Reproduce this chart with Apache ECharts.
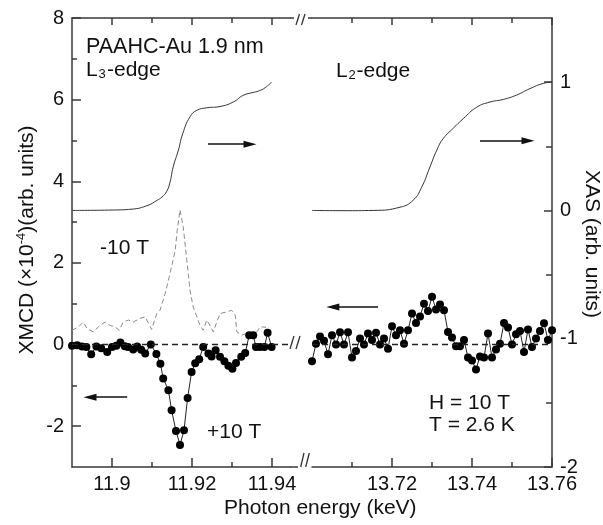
<!DOCTYPE html>
<html>
<head>
<meta charset="utf-8">
<script src="https://cdn.jsdelivr.net/npm/echarts@6/dist/echarts.min.js"></script>
<style>
  html, body { margin: 0; padding: 0; background: #fff; }
  #chart { width: 603px; height: 525px; }
</style>
</head>
<body>
<div id="chart"></div>
<script>
const FONT = '"Liberation Sans", Arial, Helvetica, sans-serif';

// ---- L3 edge (left panel) ----
// XAS spectrum (right-hand scale)
const l3XasEnergy = [11.890, 11.900, 11.905, 11.909, 11.9112, 11.9125, 11.9137, 11.9145, 11.9153, 11.9166, 11.9177,
                     11.9195, 11.9212, 11.9237, 11.927, 11.9303, 11.9328, 11.9353, 11.9366, 11.9383, 11.9399];
const l3Xas = [0, 0.003, 0.01, 0.04, 0.078, 0.105, 0.15, 0.22, 0.34, 0.47, 0.60,
               0.73, 0.78, 0.80, 0.81, 0.845, 0.897, 0.92, 0.93, 0.957, 1.0];

// XMCD at -10 T (dashed)
const l3MinusEnergy = [11.8900, 11.8916, 11.8928, 11.8938, 11.8953, 11.8970, 11.8983, 11.8995, 11.9008, 11.9018,
                       11.9028, 11.9041, 11.9053, 11.9070, 11.9083, 11.9099, 11.9112, 11.9120, 11.9133, 11.9145,
                       11.9158, 11.9163, 11.9170, 11.9178, 11.9187, 11.9195, 11.9203, 11.9212, 11.9220, 11.9228,
                       11.9237, 11.9245, 11.9253, 11.9262, 11.9270, 11.9287, 11.9299, 11.9308, 11.9312, 11.9324,
                       11.9337, 11.9349, 11.9362, 11.9370, 11.9383, 11.9391, 11.9399];
const l3Minus = [0.35, 0.43, 0.55, 0.39, 0.31, 0.47, 0.55, 0.47, 0.43, 0.35,
                 0.55, 0.60, 0.55, 0.64, 0.68, 0.37, 0.76, 0.84, 1.25, 1.74,
                 2.30, 2.80, 3.30, 2.89, 2.07, 1.33, 0.92, 0.68, 0.47, 0.35,
                 0.60, 0.47, 0.31, 0.55, 0.76, 0.80, 0.84, 0.72, 0.31, 0.23,
                 0.27, 0.23, 0.31, 0.43, 0.43, 0.31, 0.19];

// XMCD at +10 T (dots)
const l3PlusEnergy = [11.8900, 11.8913, 11.8925, 11.8936, 11.8948, 11.8961, 11.8973, 11.8988, 11.9000, 11.9011,
                      11.9021, 11.9032, 11.9040, 11.9053, 11.9063, 11.9073, 11.9083, 11.9097, 11.9111, 11.9121,
                      11.9128, 11.9141, 11.9149, 11.9160, 11.9170, 11.9180, 11.9189, 11.9199, 11.9208, 11.9218,
                      11.9228, 11.9241, 11.9249, 11.9259, 11.9270, 11.9281, 11.9291, 11.9301, 11.9310, 11.9323,
                      11.9333, 11.9343, 11.9353, 11.9360, 11.9370, 11.9381, 11.9389, 11.9399];
const l3Plus = [-0.03, -0.02, -0.05, -0.06, -0.24, -0.05, -0.09, -0.18, -0.06, -0.03,
                0.05, -0.04, -0.06, -0.12, -0.05, -0.13, -0.22, 0.00, -0.23, -0.47,
                -0.83, -1.12, -1.61, -2.12, -2.46, -2.10, -1.31, -0.67, -0.46, -0.36,
                -0.06, -0.22, -0.29, -0.14, -0.30, -0.41, -0.52, -0.59, -0.45, -0.30,
                -0.21, 0.23, 0.23, -0.06, -0.06, -0.06, 0.29, -0.06];

// ---- L2 edge (right panel) ----
const l2XasEnergy = [13.700, 13.708, 13.7153, 13.722, 13.7253, 13.7274, 13.7295, 13.7312, 13.7328, 13.7353,
                     13.7378, 13.7412, 13.7445, 13.7478, 13.7512, 13.7545, 13.7578, 13.760];
const l2Xas = [0, -0.002, 0, 0.025, 0.08, 0.18, 0.34, 0.47, 0.56, 0.64,
               0.715, 0.805, 0.845, 0.865, 0.90, 0.95, 0.99, 1.0];

const l2Energy = [13.700, 13.701, 13.702, 13.703, 13.704, 13.705, 13.706, 13.707, 13.708, 13.709,
                  13.710, 13.711, 13.712, 13.713, 13.714, 13.715, 13.716, 13.717, 13.718, 13.719,
                  13.720, 13.721, 13.722, 13.723, 13.724, 13.725, 13.726, 13.727, 13.728, 13.729,
                  13.730, 13.731, 13.732, 13.733, 13.734, 13.735, 13.736, 13.737, 13.738, 13.739,
                  13.740, 13.741, 13.742, 13.743, 13.744, 13.745, 13.746, 13.747, 13.748, 13.749,
                  13.750, 13.751, 13.752, 13.753, 13.754, 13.755, 13.756, 13.757, 13.758, 13.759,
                  13.760];
const l2Xmcd = [-0.41, 0.02, 0.20, 0.09, -0.24, 0.23, 0.00, 0.30, 0.00, 0.30,
                -0.32, -0.16, 0.15, 0.00, 0.27, 0.11, 0.29, 0.00, 0.15, -0.10,
                0.45, 0.23, 0.35, 0.02, 0.35, 0.76, 0.53, 0.69, 1.00, 0.82,
                1.17, 0.86, 0.98, 0.84, 0.31, 0.17, -0.04, -0.04, 0.11, -0.32,
                -0.39, -0.61, -0.29, -0.32, 0.27, -0.32, -0.12, 0.02, 0.53, 0.42,
                0.00, 0.25, 0.33, -0.18, 0.37, -0.06, 0.15, 0.33, 0.52, 0.11,
                0.35];

// ---- ticks ----
const l3Ticks = [11.90, 11.92, 11.94];
const l3Minor = [11.91, 11.93];
const l2Ticks = [13.72, 13.74, 13.76];
const l2Minor = [13.71, 13.73, 13.75];
const xmcdTicks = [-2, 0, 2, 4, 6, 8];
const xmcdMinor = [-1, 1, 3, 5, 7];
const xasTicks = [-2, -1, 0, 1];
const xasMinor = [-1.5, -0.5, 0.5];

// ---- arrows (start, end) in data coordinates ----
const l3ArrowXas = [[11.9240, 4.91], [11.9345, 4.91]];
const l3ArrowXmcd = [[11.9038, -1.29], [11.8945, -1.29]];
const l2ArrowXas = [[13.7420, 4.99], [13.7540, 4.99]];
const l2ArrowXmcd = [[13.7165, 0.92], [13.7052, 0.92]];

const zip = (xs, ys) => xs.map((x, i) => [x, ys[i]]);
const AX = '#3a3a3a';
const axisLineStyle = { color: AX, width: 1.5 };
const trim = v => String(parseFloat(Number(v).toFixed(2)));

function labelCfg(values, margin) {
  return { show: true, customValues: values, margin: margin, formatter: trim,
           fontSize: 20, fontFamily: FONT, color: '#111' };
}
function xAxisDef(grid, min, max, position, ticks, len, withLine, labels) {
  return {
    type: 'value', gridIndex: grid, min: min, max: max, position: position,
    splitLine: { show: false },
    axisLine: { show: withLine, onZero: false, lineStyle: axisLineStyle },
    axisTick: { show: true, inside: true, length: len, customValues: ticks, lineStyle: axisLineStyle },
    axisLabel: labels ? labelCfg(labels, 7) : { show: false }
  };
}
function yAxisDef(grid, min, max, position, ticks, len, withLine, labels) {
  return {
    type: 'value', gridIndex: grid, min: min, max: max, position: position,
    splitLine: { show: false },
    axisLine: { show: withLine, onZero: false, lineStyle: axisLineStyle },
    axisTick: { show: true, inside: true, length: len, customValues: ticks, lineStyle: axisLineStyle },
    axisLabel: labels ? labelCfg(labels, 8) : { show: false }
  };
}
function hiddenY(grid, min, max) {
  return { type: 'value', gridIndex: grid, min: min, max: max, show: false,
           axisLine: { onZero: false }, splitLine: { show: false } };
}
function arrow(pair) {
  return [
    { coord: pair[0], symbol: 'none' },
    { coord: pair[1], symbol: 'triangle', symbolSize: [7, 13] }
  ];
}

const L3MIN = 11.89, L3MAX = 11.9445, L2MIN = 13.70, L2MAX = 13.76;

const option = {
  animation: false,
  backgroundColor: '#fff',
  grid: [
    { left: 72, top: 18, width: 218, height: 449 },
    { left: 312, top: 18, width: 240, height: 449 }
  ],
  xAxis: [
    xAxisDef(0, L3MIN, L3MAX, 'bottom', l3Ticks, 9, true, l3Ticks),
    xAxisDef(0, L3MIN, L3MAX, 'bottom', l3Minor, 5, false, null),
    xAxisDef(0, L3MIN, L3MAX, 'top', l3Ticks, 7, true, null),
    xAxisDef(0, L3MIN, L3MAX, 'top', l3Minor, 5, false, null),
    xAxisDef(1, L2MIN, L2MAX, 'bottom', l2Ticks, 9, true, l2Ticks),
    xAxisDef(1, L2MIN, L2MAX, 'bottom', l2Minor, 5, false, null),
    xAxisDef(1, L2MIN, L2MAX, 'top', l2Ticks, 7, true, null),
    xAxisDef(1, L2MIN, L2MAX, 'top', l2Minor, 5, false, null)
  ],
  yAxis: [
    yAxisDef(0, -3, 8, 'left', xmcdTicks, 9, true, xmcdTicks),
    yAxisDef(0, -3, 8, 'left', xmcdMinor, 5, false, null),
    hiddenY(0, -2, 1.5),
    hiddenY(1, -3, 8),
    yAxisDef(1, -2, 1.5, 'right', xasTicks, 8, true, xasTicks),
    yAxisDef(1, -2, 1.5, 'right', xasMinor, 6, false, null)
  ],
  series: [
    {
      name: 'XAS L3', type: 'line', xAxisIndex: 0, yAxisIndex: 2,
      data: zip(l3XasEnergy, l3Xas), smooth: 0.5,
      showSymbol: false, silent: true,
      lineStyle: { color: '#333', width: 1 }
    },
    {
      name: '-10 T', type: 'line', xAxisIndex: 0, yAxisIndex: 0,
      data: zip(l3MinusEnergy, l3Minus), showSymbol: false, silent: true,
      lineStyle: { color: '#8c8c8c', width: 1, type: [5, 3] }
    },
    {
      name: '+10 T', type: 'line', xAxisIndex: 0, yAxisIndex: 0,
      data: zip(l3PlusEnergy, l3Plus), clip: false, silent: true,
      symbol: 'circle', symbolSize: 8,
      itemStyle: { color: '#000' },
      lineStyle: { color: '#222', width: 1 },
      markLine: {
        silent: true, symbol: ['none', 'none'], label: { show: false },
        lineStyle: { color: '#111', width: 1.5, type: 'solid' },
        data: [
          { yAxis: 0, lineStyle: { color: '#222', width: 1.3, type: [6, 4] } },
          arrow(l3ArrowXas),
          arrow(l3ArrowXmcd)
        ]
      }
    },
    {
      name: 'XAS L2', type: 'line', xAxisIndex: 4, yAxisIndex: 4,
      data: zip(l2XasEnergy, l2Xas), smooth: 0.5,
      showSymbol: false, silent: true,
      lineStyle: { color: '#333', width: 1 }
    },
    {
      name: 'XMCD L2', type: 'line', xAxisIndex: 4, yAxisIndex: 3,
      data: zip(l2Energy, l2Xmcd), clip: false, silent: true,
      symbol: 'circle', symbolSize: 8,
      itemStyle: { color: '#000' },
      lineStyle: { color: '#222', width: 1 },
      markLine: {
        silent: true, symbol: ['none', 'none'], label: { show: false },
        lineStyle: { color: '#111', width: 1.5, type: 'solid' },
        data: [
          { yAxis: 0, lineStyle: { color: '#222', width: 1.3, type: [6, 4] } },
          arrow(l2ArrowXas),
          arrow(l2ArrowXmcd)
        ]
      }
    }
  ],
  graphic: [
    // axis break marks and short axis extensions
    { type: 'line', shape: { x1: 290, y1: 18, x2: 294, y2: 18 }, style: { stroke: AX, lineWidth: 1.5 } },
    { type: 'line', shape: { x1: 308, y1: 18, x2: 312, y2: 18 }, style: { stroke: AX, lineWidth: 1.5 } },
    { type: 'line', shape: { x1: 290, y1: 467, x2: 298, y2: 467 }, style: { stroke: AX, lineWidth: 1.5 } },
    { type: 'line', shape: { x1: 296, y1: 25, x2: 299.5, y2: 14 }, style: { stroke: '#333', lineWidth: 1.3 } },
    { type: 'line', shape: { x1: 301.5, y1: 25, x2: 305, y2: 14 }, style: { stroke: '#333', lineWidth: 1.3 } },
    { type: 'line', shape: { x1: 290, y1: 349, x2: 294, y2: 336 }, style: { stroke: '#333', lineWidth: 1.3 } },
    { type: 'line', shape: { x1: 296, y1: 349, x2: 300, y2: 336 }, style: { stroke: '#333', lineWidth: 1.3 } },
    { type: 'line', shape: { x1: 300.7, y1: 467, x2: 304, y2: 453 }, style: { stroke: '#333', lineWidth: 1.3 } },
    { type: 'line', shape: { x1: 305.7, y1: 467, x2: 309.3, y2: 453 }, style: { stroke: '#333', lineWidth: 1.3 } },

    // annotations
    { type: 'text', x: 86, y: 47, style: { text: 'PAAHC-Au 1.9 nm', fontSize: 21.5, fontFamily: FONT, fill: '#111', align: 'left', verticalAlign: 'middle' } },
    { type: 'text', x: 86, y: 70, style: { text: 'L', fontSize: 21, fontFamily: FONT, fill: '#111', align: 'left', verticalAlign: 'middle' } },
    { type: 'text', x: 98.5, y: 74, style: { text: '3', fontSize: 13, fontFamily: FONT, fill: '#111', align: 'left', verticalAlign: 'middle' } },
    { type: 'text', x: 107, y: 70, style: { text: '-edge', fontSize: 21, fontFamily: FONT, fill: '#111', align: 'left', verticalAlign: 'middle' } },
    { type: 'text', x: 336, y: 71, style: { text: 'L', fontSize: 21, fontFamily: FONT, fill: '#111', align: 'left', verticalAlign: 'middle' } },
    { type: 'text', x: 348.5, y: 75, style: { text: '2', fontSize: 13, fontFamily: FONT, fill: '#111', align: 'left', verticalAlign: 'middle' } },
    { type: 'text', x: 356.5, y: 71, style: { text: '-edge', fontSize: 21, fontFamily: FONT, fill: '#111', align: 'left', verticalAlign: 'middle' } },
    { type: 'text', x: 100, y: 248, style: { text: '-10 T', fontSize: 21, fontFamily: FONT, fill: '#111', align: 'left', verticalAlign: 'middle' } },
    { type: 'text', x: 207, y: 432, style: { text: '+10 T', fontSize: 21, fontFamily: FONT, fill: '#111', align: 'left', verticalAlign: 'middle' } },
    { type: 'text', x: 429, y: 403, style: { text: 'H = 10 T', fontSize: 21, fontFamily: FONT, fill: '#111', align: 'left', verticalAlign: 'middle' } },
    { type: 'text', x: 429, y: 425, style: { text: 'T = 2.6 K', fontSize: 21, fontFamily: FONT, fill: '#111', align: 'left', verticalAlign: 'middle' } },

    // axis titles
    { type: 'text', x: 224, y: 508, style: { text: 'Photon energy (keV)', fontSize: 21, fontFamily: FONT, fill: '#111', align: 'left', verticalAlign: 'middle' } },
    {
      type: 'text', x: 27, y: 240, rotation: Math.PI / 2,
      style: {
        text: '{n|XMCD (×10}{s|-4}{n|)(arb. units)}', fill: '#111', align: 'center', verticalAlign: 'middle',
        rich: {
          n: { fontSize: 21, fontFamily: FONT, lineHeight: 24, fill: '#111' },
          s: { fontSize: 13, fontFamily: FONT, lineHeight: 13, verticalAlign: 'top', fill: '#111' }
        }
      }
    },
    { type: 'text', x: 592, y: 244, rotation: -Math.PI / 2, style: { text: 'XAS (arb. units)', fontSize: 21, fontFamily: FONT, fill: '#111', align: 'center', verticalAlign: 'middle' } }
  ]
};

const chart = echarts.init(document.getElementById('chart'), null, { renderer: 'canvas' });
chart.setOption(option);
</script>
</body>
</html>
